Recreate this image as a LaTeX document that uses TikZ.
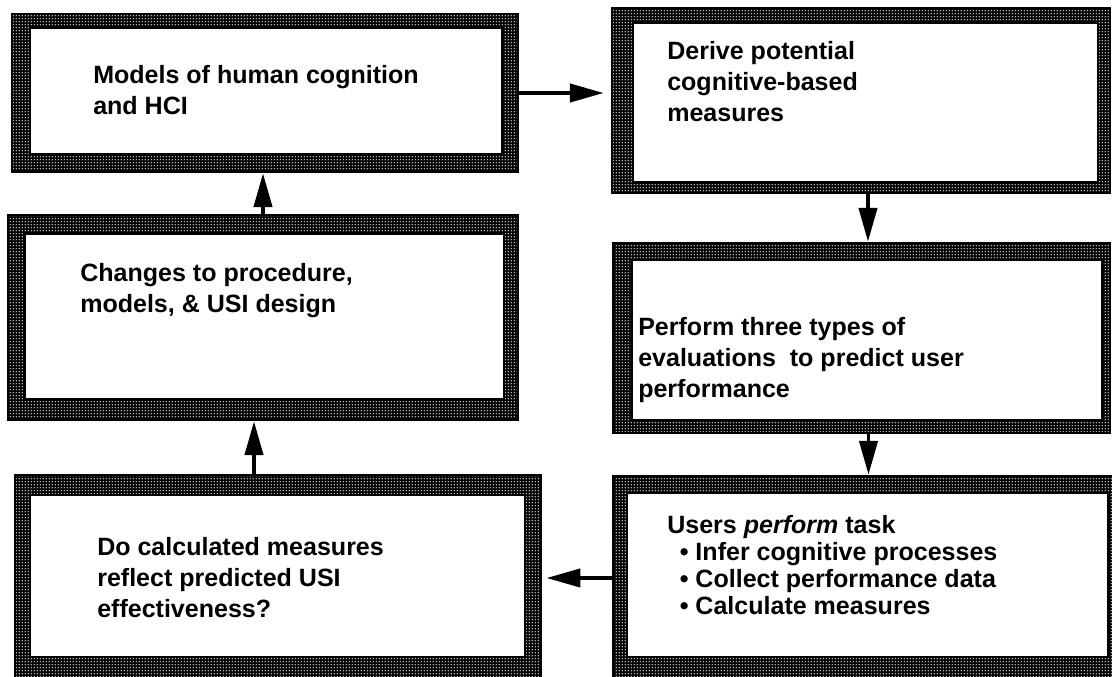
\documentclass[tikz,border=0pt]{standalone}
\usepackage{fontspec}
\setmainfont{Liberation Sans}
\usetikzlibrary{arrows.meta,patterns.meta,fit}

\tikzdeclarepattern{name=speckle, type=uncolored,
  bounding box={(0pt,0pt) and (2.2pt,2.2pt)}, tile size={(2.2pt,2.2pt)},
  code={\fill (1.1pt,1.1pt) circle (0.6pt);}}

\tikzset{
  frame/.style n args={4}{rectangle, inner sep=0pt, draw=black, line width=2pt,
    preaction={fill=black}, preaction={pattern=speckle, pattern color=white},
    path picture={\draw[fill=white, line width=1.6pt]
      ([shift={(#1,#2)}]path picture bounding box.north west) rectangle
      ([shift={(-#3,-#4)}]path picture bounding box.south east);}},
  boxtext/.style={anchor=north west, inner sep=0pt, align=left,
    font=\bfseries\fontsize{17.8}{22}\selectfont},
  flow/.style={line width=2.4pt, -{Triangle[length=24pt,width=13pt]}},
}

\begin{document}
\begin{tikzpicture}[x=0.025cm, y=-0.025cm]
\useasboundingbox (0,0) rectangle (1112,677);

\node[frame={18}{14}{16}{18}, fit={(12,14) (518,172)}] (models) {};
\node[frame={21}{15}{12}{11}, fit={(612,8) (1110,193)}] (derive) {};
\node[frame={17}{19}{14}{21}, fit={(8,215) (518,420)}] (changes) {};
\node[frame={19}{17}{8}{13}, fit={(613,243) (1110,433)}] (perform) {};
\node[frame={15}{20}{16}{23}, fit={(15,475) (541,680)}] (check) {};
\node[frame={14}{17}{6}{23}, fit={(613,476) (1114,680)}] (users) {};

\node[boxtext] (modelstext) at (93,65) {Models of human cognition\\and HCI};
\node[boxtext] (derivetext) at (667,41) {Derive potential\\cognitive-based\\measures};
\node[boxtext] (changestext) at (80,263) {Changes to procedure,\\models, \& USI design};
\node[boxtext] (performtext) at (638,317) {Perform three types of\\evaluations~ to predict user\\performance};
\node[boxtext, font=\bfseries\fontsize{17.8}{19.2}\selectfont] (userstext) at (667,515)
  {Users \textit{perform} task\\
   \hspace*{0.5em}• Infer cognitive processes\\
   \hspace*{0.5em}• Collect performance data\\
   \hspace*{0.5em}• Calculate measures};
\node[boxtext] (checktext) at (97,537) {Do calculated measures\\reflect predicted USI\\effectiveness?};

\draw[flow, shorten >=5pt] (models.east) -- (models.east -| derive.west);
\draw[flow] ([shift={(7,0)}]derive.south) -- ([shift={(7,0)}]derive.south |- perform.north);
\draw[flow] ([shift={(7,0)}]perform.south) -- ([shift={(7,0)}]perform.south |- users.north);
\draw[flow, shorten >=3pt] (users.west) -- (users.west -| check.east);
\draw[flow] ([shift={(-24,0)}]check.north) -- ([shift={(-24,0)}]check.north |- changes.south);
\draw[flow] (changes.north) -- (changes.north |- models.south);

\end{tikzpicture}
\end{document}
